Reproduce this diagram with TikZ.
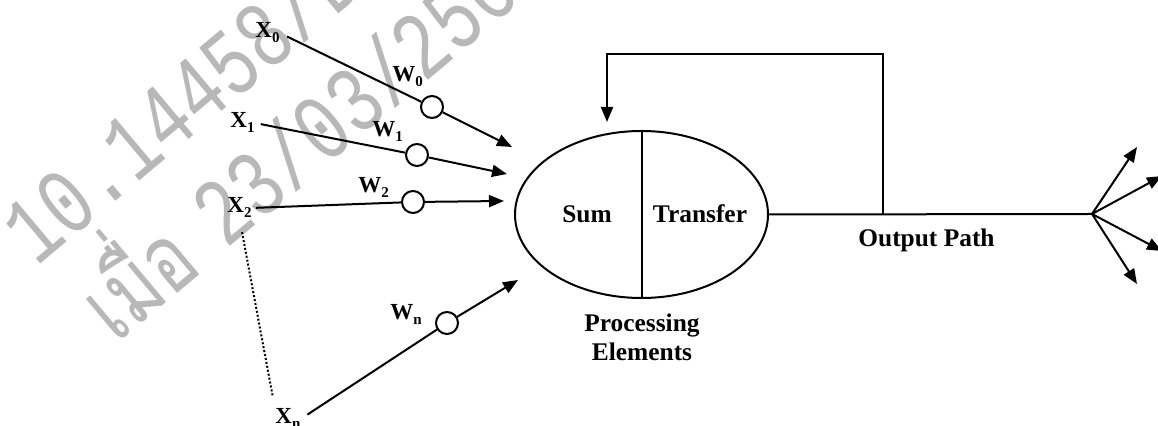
\documentclass[tikz,border=0pt]{standalone}
\usepackage{fontspec}
\setmainfont{Liberation Serif}
\newfontfamily\thaifont[Script=Thai]{Loma}
\newfontfamily\wmfont{Liberation Mono}
\usetikzlibrary{arrows.meta,shapes.geometric}
\newcommand\sbx[1]{\raisebox{-2.5pt}{\fontsize{7.5}{7.5}\selectfont #1}}
\begin{document}
\begin{tikzpicture}[x=0.5pt,y=-0.5pt,
  lab/.style={font=\bfseries\fontsize{11.5}{12}\selectfont, inner sep=0pt, anchor=base west},
  txt/.style={font=\bfseries\fontsize{12.7}{14.5}\selectfont, inner sep=0pt},
  wcirc/.style={circle, draw, fill=white, line width=1pt, minimum size=11pt, inner sep=0pt},
  conn/.style={line width=1pt},
  arr/.style={line width=1pt, -{Triangle[length=7.5pt,width=6pt]}},
  wm/.style={text=black!28, font=\wmfont\fontsize{48}{48}\selectfont, rotate=40, xscale=0.75, inner sep=0pt, anchor=base west}]
\useasboundingbox (0,0) rectangle (1158,426);
% watermark
\node[wm] (wm1) at (36,268) {10.14458/DU};
\node[wm, anchor=base east] (wm2) at (205,270) {\thaifont เมื่อ};
\node[wm] (wm3) at (226,250) {23/03/2568};
% processing element
\node[ellipse, draw, line width=1pt, minimum width=126.5pt, minimum height=83.5pt, inner sep=0pt] (pe) at (641.5,214.5) {};
\draw[conn] (pe.north) -- (pe.south);
\node[txt, anchor=base] (sum) at (587,223) {Sum};
\node[txt, anchor=base] (tr) at (700,223) {Transfer};
\node[txt, align=center, anchor=north] (proc) at (642,313) {Processing\\Elements};
% inputs
\node[lab] (x0) at (255,38) {X\sbx{0}};
\node[lab] (x1) at (230,128) {X\sbx{1}};
\node[lab] (x2) at (227,213) {X\sbx{2}};
\node[lab] (xn) at (275,424) {X\sbx{n}};
\node[lab] (lw0) at (392,82) {W\sbx{0}};
\node[lab] (lw1) at (372,137) {W\sbx{1}};
\node[lab] (lw2) at (358,193) {W\sbx{2}};
\node[lab] (lwn) at (390,320) {W\sbx{n}};
\node[wcirc] (w0) at (432,107) {};
\node[wcirc] (w1) at (417,155) {};
\node[wcirc] (w2) at (413,202) {};
\node[wcirc] (wn) at (447,323) {};
\coordinate (t0) at (512,147);
\coordinate (t1) at (507,174);
\coordinate (t2) at (504,201);
\coordinate (tn) at (518,280);
\draw[conn, shorten <=4pt] (x0.east) -- (w0);
\draw[conn, shorten <=3pt] (x1.east) -- (w1);
\draw[conn, shorten <=2pt] (x2.east) -- (w2);
\draw[conn, shorten <=4pt] (xn.east) -- (wn);
\draw[arr] (w0) -- (t0);
\draw[arr] (w1) -- (t1);
\draw[arr] (w2) -- (t2);
\draw[arr] (wn) -- (tn);
\draw[line width=1pt, densely dotted, shorten <=7pt, shorten >=6pt] (x2.south) -- (xn.north west);
% output
\coordinate (fan) at (1092,214);
\coordinate (fb) at (883,214.5);
\coordinate (fbtop) at (883,54);
\coordinate (fbend) at (607,122);
\draw[conn] (pe.east) -- (fan);
\draw[arr] (fb) -- (fbtop) -| (fbend);
\node[txt, anchor=base west] (op) at (858,247) {Output Path};
\coordinate (f1) at (1137,147);
\coordinate (f2) at (1162,176);
\coordinate (f3) at (1162,251);
\coordinate (f4) at (1137,284);
\foreach \f in {f1,f2,f3,f4} \draw[arr] (fan) -- (\f);
\end{tikzpicture}
\end{document}
